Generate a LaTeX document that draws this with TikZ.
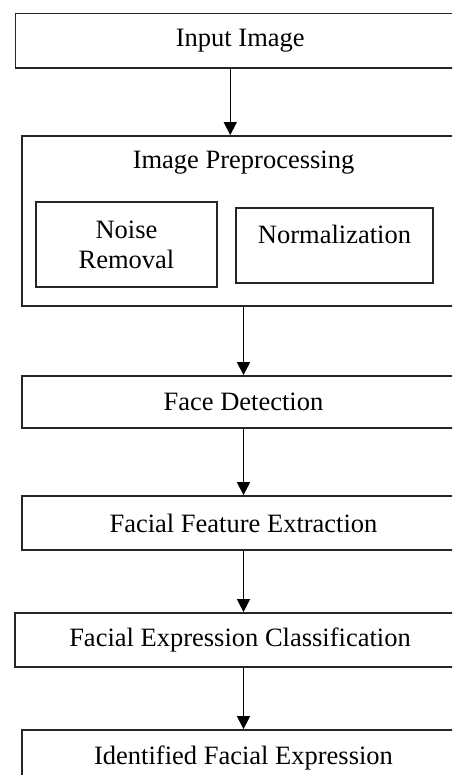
\documentclass[tikz,border=0pt]{standalone}
\usepackage{fontspec}
\setmainfont{Liberation Serif}
\usetikzlibrary{arrows.meta}
\begin{document}
\begin{tikzpicture}[x=1pt,y=-1pt,
  txt/.style={font=\fontsize{26.5}{30}\selectfont, align=center, inner sep=0pt},
  box/.style={txt, draw=black!85, line width=1.8pt, rectangle},
  flow/.style={draw=black, line width=1.5pt, -{Triangle[width=13pt,length=13pt]}}]
  \useasboundingbox (0,0) rectangle (452,775);
  \clip (0,0) rectangle (452,775);

  % stage boxes
  \node[box, minimum width=449.5pt, minimum height=54.5pt] (input) at (240.25,40.75) {Input Image};

  \node[box, minimum width=443pt, minimum height=170pt] (prep) at (243.5,221) {};
  \node[txt] (preptitle) at (243.5,163) {Image Preprocessing};
  \node[box, minimum width=181pt, minimum height=85pt] (noise) at (126.5,244.5) {Noise\\Removal};
  \node[box, minimum width=197pt, minimum height=75pt] (norm) at (334.5,245.5) {};
  \node[txt] (normtext) at (334.5,234) {Normalization};

  \node[box, minimum width=443pt, minimum height=52pt] (face) at (243.5,402) {Face Detection};
  \node[box, minimum width=443pt, minimum height=54pt] (feat) at (243.5,523) {Facial Feature Extraction};
  \node[box, minimum width=450pt, minimum height=54pt] (class) at (240,640) {Facial Expression Classification};
  \node[box, minimum width=443pt, minimum height=55pt] (ident) at (243.5,757.5) {Identified Facial Expression};

  % connectors
  \draw[flow] ([xshift=-10pt]input.south) -- ([xshift=-10pt]input.south |- prep.north);
  \draw[flow] (prep.south) -- (face.north);
  \draw[flow] (face.south) -- (feat.north);
  \draw[flow] (feat.south) -- (feat.south |- class.north);
  \draw[flow] (class.south -| ident.north) -- (ident.north);
\end{tikzpicture}
\end{document}
